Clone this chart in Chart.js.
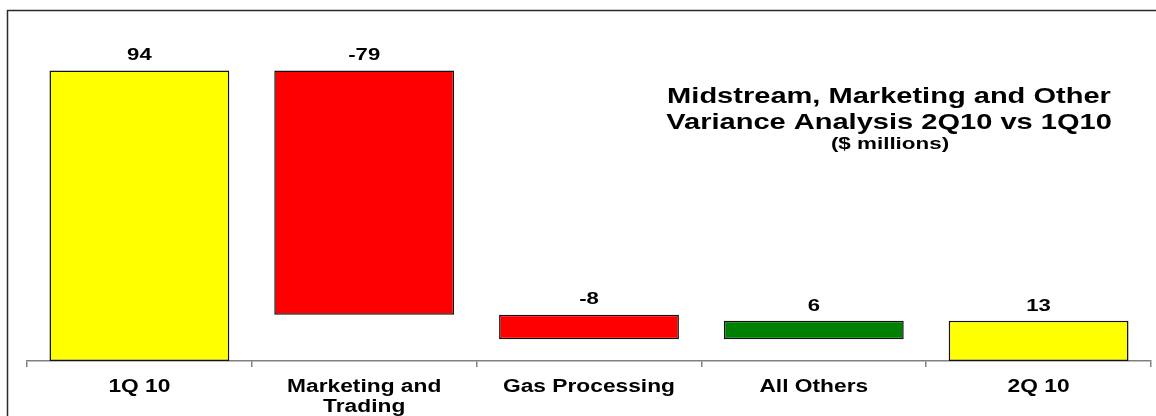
<!DOCTYPE html>
<html><head><meta charset="utf-8">
<script src="https://cdn.jsdelivr.net/npm/chart.js@4/dist/chart.umd.min.js"></script>
<style>html,body{margin:0;padding:0;background:#fff}#wrap{position:relative;width:1156px;height:416px}</style>
</head><body><div id="wrap"><canvas id="c"></canvas></div>
<script>
const categories = ['1Q 10', ['Marketing and', 'Trading'], 'Gas Processing', 'All Others', '2Q 10'];
const barStart = [0, 15, 7, 7, 0];
const barEnd = [94, 94, 15, 13, 13];
const changes = [94, -79, -8, 6, 13];
const barColors = ['#FFFF00', '#FF0000', '#FF0000', '#008000', '#FFFF00'];
const titleLines = ['Midstream, Marketing and Other', 'Variance Analysis 2Q10 vs 1Q10'];
const subtitleText = '($ millions)';
const yMin = 0, yMax = 100;

const FONT = '"Liberation Sans", Arial, Helvetica, sans-serif';

// horizontally widened text (the reference uses stretched bold Arial)
function installStretch(ctx) {
  if (ctx.__stretched) return;
  const orig = ctx.fillText;
  ctx.__sx = 1;
  ctx.fillText = function (text, x, y, maxWidth) {
    const sx = this.__sx || 1;
    if (sx === 1) {
      return maxWidth === undefined ? orig.call(this, text, x, y) : orig.call(this, text, x, y, maxWidth);
    }
    this.save();
    this.translate(x, y);
    this.scale(sx, 1);
    if (maxWidth === undefined) orig.call(this, text, 0, 0);
    else orig.call(this, text, 0, 0, maxWidth / sx);
    this.restore();
  };
  ctx.__stretched = true;
}

const framePlugin = {
  id: 'frame',
  beforeDraw(chart) {
    const ctx = chart.ctx;
    installStretch(ctx);
    ctx.save();
    ctx.strokeStyle = '#2a2a2a';
    ctx.lineWidth = 1.5;
    ctx.strokeRect(7.5, 10.5, 1300, 600);
    ctx.restore();
    ctx.__sx = 1.3;
  }
};

const valueLabelPlugin = {
  id: 'valueLabels',
  afterDatasetsDraw(chart) {
    const ctx = chart.ctx;
    const meta = chart.getDatasetMeta(0);
    ctx.save();
    ctx.font = 'bold 17px ' + FONT;
    ctx.fillStyle = '#000';
    ctx.textAlign = 'center';
    ctx.textBaseline = 'middle';
    ctx.__sx = 1.3;
    meta.data.forEach((el, i) => {
      const top = Math.min(el.y, el.base);
      ctx.fillText(String(changes[i]), el.x, top - 15);
    });
    ctx.__sx = 1.3;
    ctx.restore();
  }
};

const titlePlugin = {
  id: 'sideTitle',
  afterDraw(chart) {
    const ctx = chart.ctx;
    ctx.save();
    ctx.fillStyle = '#000';
    ctx.textAlign = 'center';
    ctx.textBaseline = 'middle';
    ctx.font = 'bold 22px ' + FONT;
    ctx.__sx = 1.32;
    ctx.fillText(titleLines[0], 889, 96.5);
    ctx.fillText(titleLines[1], 889, 122.5);
    ctx.font = 'bold 16px ' + FONT;
    ctx.__sx = 1.4;
    ctx.fillText(subtitleText, 890, 145);
    ctx.__sx = 1.3;
    ctx.restore();
  }
};

new Chart(document.getElementById('c'), {
  type: 'bar',
  data: {
    labels: categories,
    datasets: [{
      data: barStart.map((s, i) => [s, barEnd[i]]),
      backgroundColor: barColors,
      borderColor: '#111',
      borderWidth: 1.5,
      borderSkipped: false,
      barPercentage: 0.8,
      categoryPercentage: 1.0
    }]
  },
  options: {
    responsive: true,
    maintainAspectRatio: false,
    animation: false,
    layout: { padding: { left: 27, right: 5, top: 52, bottom: 0 } },
    plugins: { legend: { display: false }, tooltip: { enabled: false }, title: { display: false } },
    scales: {
      x: {
        offset: true,
        grid: { display: true, drawOnChartArea: false, drawTicks: true, tickLength: 6, color: '#808080', lineWidth: 1.5, offset: true },
        border: { display: true, color: '#808080', width: 1.5 },
        ticks: {
          color: '#000', autoSkip: false, maxRotation: 0, minRotation: 0, padding: 10,
          font: { family: FONT, size: 17.5, weight: 'bold', lineHeight: 1.15 }
        },
        afterFit(scale) { scale.height = 55; }
      },
      y: {
        display: false,
        min: yMin, max: yMax
      }
    }
  },
  plugins: [framePlugin, valueLabelPlugin, titlePlugin]
});
</script>
</body></html>
